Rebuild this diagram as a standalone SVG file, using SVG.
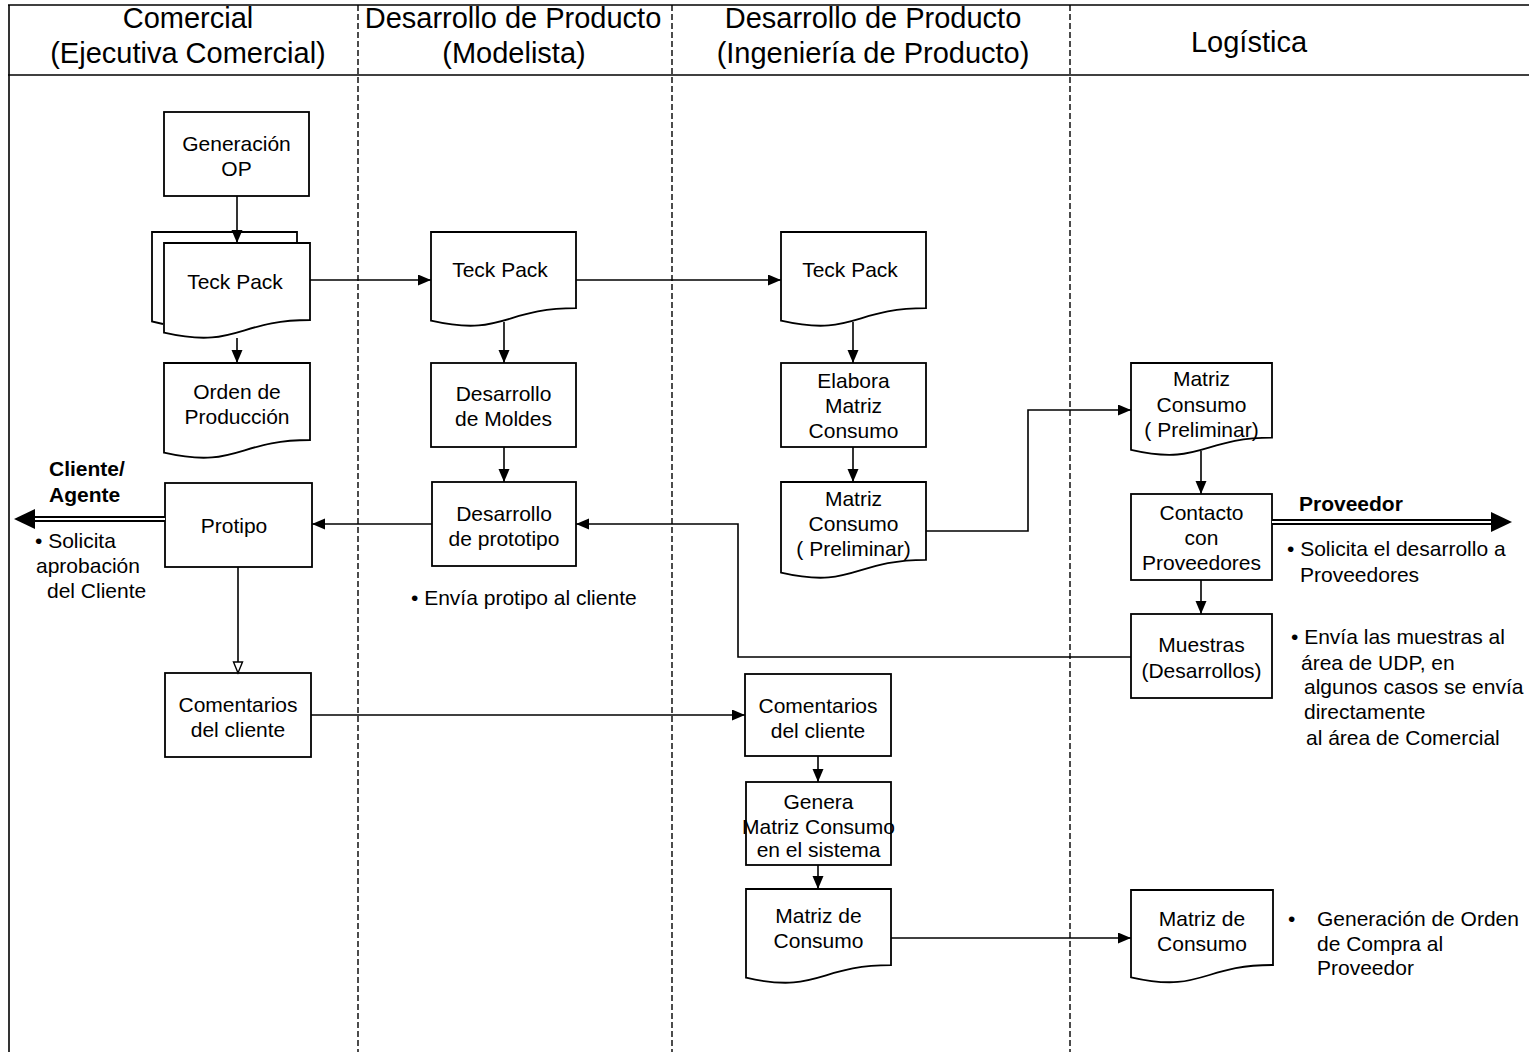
<svg xmlns="http://www.w3.org/2000/svg" width="1529" height="1057" viewBox="0 0 1529 1057">
  <style>
    .frame { stroke: #000; stroke-width: 1.6; fill: none; }
    .lane { stroke: #000; stroke-width: 1.4; stroke-dasharray: 6 3; fill: none; }
    .head { font-family: "Liberation Sans", Arial, sans-serif; font-size: 29px; fill: #000; text-anchor: middle; }
    .box { fill: #fff; stroke: #000; stroke-width: 1.8; }
    .page { fill: none; stroke: #000; stroke-width: 1.8; }
    .t { font-family: "Liberation Sans", Arial, sans-serif; font-size: 21px; fill: #000; text-anchor: middle; }
    .note { font-family: "Liberation Sans", Arial, sans-serif; font-size: 21px; fill: #000; }
    .bold { font-weight: bold; }
    .conn { stroke: #000; stroke-width: 1.6; fill: none; }
  </style>
  <defs>
    <marker id="arrow" markerUnits="userSpaceOnUse" markerWidth="14" markerHeight="12" refX="13" refY="5.5" orient="auto">
      <path d="M0,0 L13,5.5 L0,11 Z" fill="#000"/>
    </marker>
    <marker id="arrowOpen" markerUnits="userSpaceOnUse" markerWidth="14" markerHeight="14" refX="12" refY="5.5" orient="auto">
      <path d="M1,1 L12,5.5 L1,10 Z" fill="#fff" stroke="#000" stroke-width="1.4"/>
    </marker>
  </defs>

  <rect width="1529" height="1057" fill="#fff"/>

  <!-- Swimlane frame and headers -->
  <g id="lanes">
    <line class="frame" x1="8" y1="5" x2="1529" y2="5"/>
    <line class="frame" x1="8" y1="75" x2="1529" y2="75"/>
    <line class="frame" x1="9" y1="5" x2="9" y2="1052"/>
    <line class="lane" x1="358" y1="5" x2="358" y2="1052"/>
    <line class="lane" x1="672" y1="5" x2="672" y2="1052"/>
    <line class="lane" x1="1070" y1="5" x2="1070" y2="1052"/>
    <text class="head" x="188" y="28">Comercial</text>
    <text class="head" x="188" y="63">(Ejecutiva Comercial)</text>
    <text class="head" x="513" y="28">Desarrollo de Producto</text>
    <text class="head" x="514" y="63">(Modelista)</text>
    <text class="head" x="873" y="28">Desarrollo de Producto</text>
    <text class="head" x="873" y="63">(Ingeniería de Producto)</text>
    <text class="head" x="1249" y="52">Logística</text>
  </g>

  <!-- Comercial lane -->
  <g id="generacion-op">
    <rect class="box" x="164" y="112" width="145" height="84"/>
    <text class="t" x="236.5" y="151">Generación</text>
    <text class="t" x="236.5" y="176">OP</text>
  </g>
  <g id="teck-pack-comercial">
    <path class="page" d="M163,324 L152,321.5 V232 H297 V243"/>
    <path class="box" d="M164,243 H310 V320 C237,320 237,349.3 164,332.7 Z"/>
    <text class="t" x="235" y="288.5">Teck Pack</text>
  </g>
  <g id="orden-produccion">
    <path class="box" d="M164,363 H310 V440 C237,440 237,469.3 164,452.7 Z"/>
    <text class="t" x="237" y="399">Orden de</text>
    <text class="t" x="237" y="424">Producción</text>
  </g>
  <g id="protipo">
    <rect class="box" x="165" y="483" width="147" height="84"/>
    <text class="t" x="234" y="533">Protipo</text>
  </g>
  <g id="cliente-agente">
    <text class="note bold" x="49" y="476">Cliente/</text>
    <text class="note bold" x="49" y="502">Agente</text>
    <text class="note" x="35" y="548">• Solicita</text>
    <text class="note" x="36" y="573">aprobación</text>
    <text class="note" x="47" y="598">del  Cliente</text>
  </g>
  <g id="comentarios-comercial">
    <rect class="box" x="165" y="673" width="146" height="84"/>
    <text class="t" x="238" y="712">Comentarios</text>
    <text class="t" x="238" y="737">del cliente</text>
  </g>

  <!-- Modelista lane -->
  <g id="teck-pack-modelista">
    <path class="box" d="M431,232 H576 V308.2 C503.5,308.2 503.5,337.2 431,320.7 Z"/>
    <text class="t" x="500" y="276.5">Teck Pack</text>
  </g>
  <g id="desarrollo-moldes">
    <rect class="box" x="431" y="363" width="145" height="84"/>
    <text class="t" x="503.5" y="401">Desarrollo</text>
    <text class="t" x="503.5" y="426">de Moldes</text>
  </g>
  <g id="desarrollo-prototipo">
    <rect class="box" x="432" y="482" width="144" height="84"/>
    <text class="t" x="504" y="521">Desarrollo</text>
    <text class="t" x="504" y="546">de prototipo</text>
    <text class="note" x="411" y="605">• Envía protipo al cliente</text>
  </g>

  <!-- Ingenieria de Producto lane -->
  <g id="teck-pack-ingenieria">
    <path class="box" d="M781,232 H926 V308.2 C853.5,308.2 853.5,337.2 781,320.7 Z"/>
    <text class="t" x="850" y="276.5">Teck Pack</text>
  </g>
  <g id="elabora-matriz">
    <rect class="box" x="781" y="363" width="145" height="84"/>
    <text class="t" x="853.5" y="388">Elabora</text>
    <text class="t" x="853.5" y="413">Matriz</text>
    <text class="t" x="853.5" y="438">Consumo</text>
  </g>
  <g id="matriz-preliminar-ingenieria">
    <path class="box" d="M781,482 H926 V559.8 C853.5,559.8 853.5,589.4 781,572.6 Z"/>
    <text class="t" x="853.5" y="506">Matriz</text>
    <text class="t" x="853.5" y="531">Consumo</text>
    <text class="t" x="853.5" y="556">( Preliminar)</text>
  </g>
  <g id="comentarios-ingenieria">
    <rect class="box" x="745" y="674" width="146" height="82"/>
    <text class="t" x="818" y="712.5">Comentarios</text>
    <text class="t" x="818" y="737.5">del cliente</text>
  </g>
  <g id="genera-matriz">
    <rect class="box" x="746" y="782" width="145" height="83"/>
    <text class="t" x="818.5" y="809">Genera</text>
    <text class="t" x="818.5" y="833.5">Matriz Consumo</text>
    <text class="t" x="818.5" y="857">en el sistema</text>
  </g>
  <g id="matriz-consumo-ingenieria">
    <path class="box" d="M746,889 H891 V965.2 C818.5,965.2 818.5,994.2 746,977.7 Z"/>
    <text class="t" x="818.5" y="922.5">Matriz de</text>
    <text class="t" x="818.5" y="947.5">Consumo</text>
  </g>

  <!-- Logistica lane -->
  <g id="matriz-preliminar-logistica">
    <path class="box" d="M1131,363 H1272 V437.6 C1201.5,437.6 1201.5,466 1131,449.9 Z"/>
    <text class="t" x="1201.5" y="386">Matriz</text>
    <text class="t" x="1201.5" y="411.5">Consumo</text>
    <text class="t" x="1201.5" y="437">( Preliminar)</text>
  </g>
  <g id="contacto-proveedores">
    <rect class="box" x="1131" y="494" width="141" height="86"/>
    <text class="t" x="1201.5" y="520">Contacto</text>
    <text class="t" x="1201.5" y="545">con</text>
    <text class="t" x="1201.5" y="570">Proveedores</text>
  </g>
  <g id="proveedor">
    <text class="note bold" x="1299" y="511">Proveedor</text>
    <text class="note" x="1287" y="556">• Solicita el desarrollo a</text>
    <text class="note" x="1300" y="582">Proveedores</text>
  </g>
  <g id="muestras">
    <rect class="box" x="1131" y="614" width="141" height="84"/>
    <text class="t" x="1201.5" y="651.5">Muestras</text>
    <text class="t" x="1201.5" y="677.5">(Desarrollos)</text>
    <text class="note" x="1291" y="644">•  Envía las muestras al</text>
    <text class="note" x="1301" y="670">área de UDP, en</text>
    <text class="note" x="1304" y="694">algunos casos se envía</text>
    <text class="note" x="1304" y="719">directamente</text>
    <text class="note" x="1306" y="745">al  área de Comercial</text>
  </g>
  <g id="matriz-consumo-logistica">
    <path class="box" d="M1131,890 H1273 V965 C1202,965 1202,993.5 1131,977.3 Z"/>
    <text class="t" x="1202" y="926">Matriz de</text>
    <text class="t" x="1202" y="951">Consumo</text>
    <text class="note" x="1288" y="926">•</text>
    <text class="note" x="1317" y="926">Generación de Orden</text>
    <text class="note" x="1317" y="951">de  Compra al</text>
    <text class="note" x="1317" y="975">Proveedor</text>
  </g>

  <!-- Connectors, drawn over the shapes so heads stay visible -->
  <g id="connectors">
    <line class="conn" x1="237" y1="196" x2="237" y2="243" marker-end="url(#arrow)"/>
    <line class="conn" x1="237" y1="338" x2="237" y2="363" marker-end="url(#arrow)"/>
    <line class="conn" x1="310" y1="280" x2="431" y2="280" marker-end="url(#arrow)"/>
    <line class="conn" x1="576" y1="280" x2="781" y2="280" marker-end="url(#arrow)"/>
    <line class="conn" x1="504" y1="322" x2="504" y2="363" marker-end="url(#arrow)"/>
    <line class="conn" x1="504" y1="447" x2="504" y2="482" marker-end="url(#arrow)"/>
    <line class="conn" x1="853" y1="322" x2="853" y2="363" marker-end="url(#arrow)"/>
    <line class="conn" x1="853" y1="447" x2="853" y2="482" marker-end="url(#arrow)"/>
    <path class="conn" d="M926,531 H1028 V410 H1131" marker-end="url(#arrow)"/>
    <line class="conn" x1="1201" y1="451" x2="1201" y2="494" marker-end="url(#arrow)"/>
    <line class="conn" x1="1201" y1="580" x2="1201" y2="614" marker-end="url(#arrow)"/>
    <path class="conn" d="M1131,657 H738 V524 H576" marker-end="url(#arrow)"/>
    <line class="conn" x1="432" y1="524" x2="312" y2="524" marker-end="url(#arrow)"/>
    <line class="conn" x1="238" y1="567" x2="238" y2="673" marker-end="url(#arrowOpen)"/>
    <line class="conn" x1="311" y1="715" x2="745" y2="715" marker-end="url(#arrow)"/>
    <line class="conn" x1="818" y1="756" x2="818" y2="782" marker-end="url(#arrow)"/>
    <line class="conn" x1="818" y1="865" x2="818" y2="889" marker-end="url(#arrow)"/>
    <line class="conn" x1="891" y1="938" x2="1131" y2="938" marker-end="url(#arrow)"/>
    <!-- double-line exits to Cliente/Agente and Proveedor -->
    <line x1="165" y1="519" x2="30" y2="519" stroke="#000" stroke-width="6"/>
    <line x1="165" y1="519" x2="30" y2="519" stroke="#fff" stroke-width="2"/>
    <path d="M14,519 L35,509 L35,529 Z" fill="#000"/>
    <line x1="1272" y1="522" x2="1495" y2="522" stroke="#000" stroke-width="6"/>
    <line x1="1272" y1="522" x2="1495" y2="522" stroke="#fff" stroke-width="2"/>
    <path d="M1512,522 L1491,512 L1491,532 Z" fill="#000"/>
  </g>
</svg>
